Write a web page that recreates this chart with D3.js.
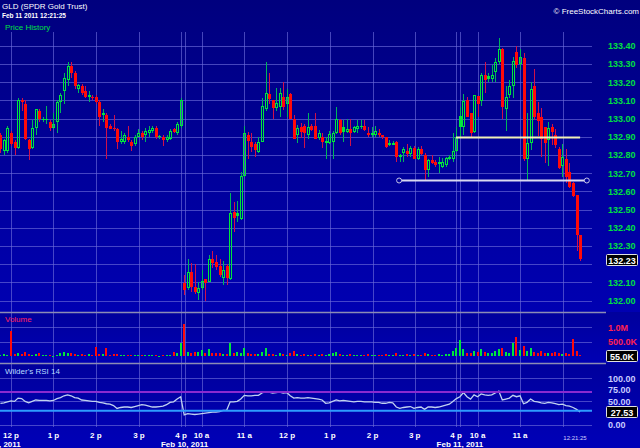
<!DOCTYPE html>
<html><head><meta charset="utf-8">
<script src="https://cdn.jsdelivr.net/npm/d3@7"></script>
<style>html,body{margin:0;padding:0;background:#000088;}svg{display:block}</style>
</head><body>
<svg id="chart" width="640" height="448"></svg>
<script>
// ---------- DATA (5-minute candles, GLD, Feb 9 11:45 .. Feb 11 12:20) ----------
const opens = [
132.91,132.82,132.82,132.92,132.87,132.84,133.10,133.08,132.88,132.84,
132.95,133.04,132.99,132.99,132.98,132.95,132.98,133.09,133.15,133.21,
133.29,133.25,133.16,133.18,133.15,133.13,133.12,133.12,133.09,133.02,
133.02,132.96,132.95,132.94,132.87,132.87,132.90,132.87,132.86,132.90,
132.92,132.91,132.92,132.93,132.95,132.90,132.90,132.88,132.89,132.94,
132.92,132.96,
132.094,132.067,132.155,132.076,132.04,132.067,132.118,132.10,132.228,132.21,
132.19,132.125,132.19,132.118,132.488,132.482,132.45,132.686,132.91,132.87,
132.862,132.818,132.87,133.05,133.133,133.10,133.056,133.065,133.12,133.078,
133.133,133.00,132.909,132.955,132.96,132.909,132.96,132.96,132.891,132.896,
132.876,132.868,132.87,132.918,132.99,132.951,132.927,132.94,132.927,132.945,
132.951,132.958,132.923,132.909,132.909,132.921,132.909,132.896,132.865,132.866,
132.872,132.79,132.808,132.823,132.805,132.84,132.775,132.83,132.80,132.717,
132.772,132.763,132.763,132.735,132.744,132.776,132.776,132.823,
133.013,132.955,133.10,133.03,132.927,133.123,133.098,133.24,133.232,133.215,
133.257,133.308,133.38,133.05,133.13,133.18,133.367,133.30,133.33,132.775,
132.867,133.18,133.03,133.006,132.955,132.882,132.955,132.909,132.83,132.739,
132.78,132.707,132.643,132.58,132.36];
const highs = [
132.92,132.89,132.96,132.93,132.88,133.11,133.11,133.10,132.89,132.99,
133.05,133.05,133.01,133.07,132.99,133.03,133.10,133.14,133.25,133.31,
133.31,133.26,133.19,133.19,133.18,133.15,133.13,133.13,133.10,133.05,
133.03,132.97,133.02,132.95,132.93,132.92,132.96,132.88,132.91,132.94,
132.93,132.95,132.96,132.96,132.96,132.91,132.91,132.91,132.94,132.95,
132.98,133.11,
132.14,132.228,132.204,132.20,132.10,132.167,132.12,132.25,132.27,132.25,
132.23,132.217,132.20,132.59,132.543,132.547,132.708,132.958,132.928,132.92,
132.87,132.90,133.11,133.31,133.25,133.10,133.166,133.166,133.20,133.16,
133.14,133.02,132.964,132.973,132.97,133.03,132.97,133.03,132.937,132.918,
132.90,132.93,132.93,133.065,133.0,132.99,133.0,133.0,132.96,132.99,
132.99,132.99,132.955,132.955,132.958,132.94,132.91,132.90,132.88,132.878,
132.875,132.805,132.845,132.86,132.848,132.85,132.845,132.85,132.81,132.78,
132.80,132.77,132.79,132.781,132.79,132.80,132.92,132.955,
133.065,133.135,133.12,133.03,133.13,133.125,133.25,133.31,133.25,133.294,
133.33,133.44,133.39,133.18,133.21,133.34,133.40,133.38,133.36,133.03,
133.20,133.27,133.092,133.06,132.955,132.98,132.97,132.94,132.845,132.86,
132.835,132.757,132.65,132.58,132.36];
const lows = [
132.81,132.80,132.81,132.85,132.80,132.83,133.04,132.88,132.77,132.83,
132.91,132.98,132.98,132.97,132.93,132.94,132.92,133.03,133.08,133.18,
133.22,133.16,133.14,133.13,133.11,133.09,133.10,133.08,132.96,132.98,
132.78,132.94,132.93,132.83,132.86,132.86,132.87,132.82,132.85,132.90,
132.88,132.87,132.90,132.92,132.89,132.89,132.85,132.87,132.88,132.92,
132.91,132.95,
132.03,132.058,132.048,132.034,132.003,132.06,131.997,132.10,132.176,132.167,
132.13,132.085,132.085,132.113,132.378,132.433,132.442,132.68,132.78,132.818,
132.79,132.81,132.869,133.04,133.08,133.00,133.04,133.01,133.047,133.01,
133.00,132.89,132.863,132.891,132.84,132.89,132.93,132.89,132.88,132.84,
132.78,132.86,132.78,132.915,132.91,132.873,132.918,132.85,132.92,132.918,
132.94,132.93,132.90,132.90,132.90,132.896,132.89,132.84,132.849,132.86,
132.763,132.763,132.763,132.79,132.786,132.775,132.772,132.80,132.66,132.68,
132.75,132.735,132.70,132.726,132.735,132.77,132.76,132.818,
132.90,132.91,133.006,132.90,132.922,133.01,133.068,133.14,133.20,133.20,
133.20,133.30,133.0,132.93,133.11,133.11,133.275,133.266,132.768,132.662,
132.826,132.99,132.905,132.79,132.757,132.74,132.854,132.836,132.72,132.68,
132.643,132.616,132.57,132.27,132.215];
const closes = [
132.83,132.88,132.95,132.86,132.84,133.10,133.09,132.89,132.83,132.95,
133.05,133.00,133.00,133.00,132.95,132.97,133.09,133.13,133.22,133.29,
133.25,133.18,133.185,133.14,133.12,133.131,133.11,133.09,133.01,133.03,
132.95,132.945,132.94,132.87,132.89,132.91,132.88,132.85,132.90,132.92,
132.90,132.93,132.935,132.95,132.90,132.902,132.88,132.90,132.93,132.925,
132.97,133.10,
132.058,132.155,132.076,132.045,132.067,132.107,132.094,132.228,132.204,132.186,
132.14,132.167,132.125,132.479,132.455,132.466,132.686,132.918,132.876,132.845,
132.827,132.869,133.07,133.14,133.107,133.06,133.083,133.142,133.065,133.12,
133.00,132.89,132.95,132.924,132.918,132.955,132.937,132.89,132.918,132.869,
132.878,132.915,132.918,133.0,132.918,132.927,132.942,132.92,132.951,132.958,
132.958,132.937,132.908,132.921,132.93,132.907,132.896,132.845,132.867,132.868,
132.79,132.80,132.83,132.805,132.84,132.78,132.83,132.805,132.717,132.772,
132.757,132.744,132.75,132.763,132.781,132.786,132.823,132.896,
132.951,133.096,133.01,132.918,133.129,133.08,133.24,133.21,133.215,133.24,
133.31,133.38,133.065,133.12,133.18,133.318,133.294,133.34,132.775,132.867,
133.16,133.006,132.988,132.89,132.867,132.95,132.927,132.854,132.726,132.786,
132.68,132.625,132.574,132.36,132.23];
const volumesK = [
60,70,40,870,70,130,90,140,90,60,
80,100,40,50,40,30,60,120,140,120,
110,90,60,80,60,70,40,330,80,80,
280,60,80,70,40,60,50,40,60,40,
50,60,50,60,50,30,60,40,60,150,
100,450,
1100,160,130,140,150,220,120,240,100,130,100,90,90,
450,100,160,100,280,110,80,90,80,150,280,
90,80,60,110,90,60,100,190,70,60,90,50,60,80,60,
70,60,80,100,160,80,60,50,70,60,
50,40,60,70,50,40,60,50,90,40,
40,120,60,50,70,60,90,50,60,110,
80,60,50,70,60,80,70,200,270,
560,250,120,110,200,160,240,150,100,120,200,250,
300,150,100,470,650,220,350,180,280,
150,130,200,120,110,100,150,120,80,130,90,600,200,55];
const rsi14 = [
46,47,49,51,50,57,56,50,47,50,
53,52,52,52,51,52,56,58,62,64,
62,58,57,53,52,51,50,50,48,47,
45,44,41,35,37,38,38,37,39,41,
43,42,40,38,38,39,40,43,48,49,
55,60,
21,24,23,22,23,24,25,26,27,27,28,31,31,
49,49,50,55,63,62,62,63,63,68,71,
70,68,69,70,68,69,62,57,58,57,57,58,57,56,55,
53,46,47,50,53,51,52,51,50,49,
50,50,49,49,49,48,48,46,46,48,
47,38,35,37,38,39,35,37,38,33,
38,38,37,38,40,42,44,50,56,
60,69,60,55,64,60,66,64,63,64,68,72,
53,55,57,63,60,62,45,48,55,
50,49,47,46,48,47,45,43,44,41,40,37,33,27.53];

const priceTicks = [133.40,133.30,133.20,133.10,133.00,132.90,132.80,132.70,132.60,132.50,132.40,132.30,132.20,132.10,132.00];
const volumeTicks = [[1000,"1.0M"],[500,"500.0K"]];
const rsiTicks = [100,75,50,25,0];
const rsiLevels = [70,30];
// time ticks in candle-slot units
const timeTicks = [[3,"12 p"],[15,"1 p"],[27,"2 p"],[39.2,"3 p"],[51.1,"4 p"],[56.9,"10 a"],[69,"11 a"],[81.1,"12 p"],[93.2,"1 p"],[105.3,"2 p"],[117.2,"3 p"],[128.9,"4 p"],[135,"10 a"],[147,"11 a"],[159.2,""]];
const daySeps = [[-0.28,"Feb 9, 2011",false],[52.1,"Feb 10, 2011",true],[130,"Feb 11, 2011",true]];
const trendLines = [{price:132.662, from:112.8, to:165.9, color:"#d8d8f0", handles:true},
                    {price:132.897, from:128.9, to:164.0, color:"#f0f0b8", handles:false}];

// ---------- LAYOUT ----------
const svg = d3.select("#chart");
const plotR = 592;
const x = d3.scaleLinear().domain([0,164]).range([0.4,580.1]);
const yP = d3.scaleLinear().domain([132.0,133.4]).range([300.5,45.7]);
const yV = d3.scaleLinear().domain([0,1000]).range([356.4,327]);
const yR = d3.scaleLinear().domain([0,100]).range([424.8,378]);

const defs = svg.append("defs");
function grad(id, c1, c2){
  const g = defs.append("linearGradient").attr("id",id).attr("x1",0).attr("x2",0).attr("y1",0).attr("y2",1);
  g.append("stop").attr("offset","0%").attr("stop-color",c1);
  g.append("stop").attr("offset","100%").attr("stop-color",c2);
}
grad("gP","#00007e","#0000b2");
grad("gV","#00009c","#0000b4");
grad("gR","#00009c","#0000b8");
defs.append("clipPath").attr("id","clipPlot").append("rect").attr("x",0).attr("y",0).attr("width",plotR).attr("height",448);

svg.append("rect").attr("x",0).attr("y",0).attr("width",640).attr("height",312).attr("fill","url(#gP)");
svg.append("rect").attr("x",0).attr("y",312).attr("width",640).attr("height",51).attr("fill","url(#gV)");
svg.append("rect").attr("x",0).attr("y",363).attr("width",640).attr("height",85).attr("fill","url(#gR)");

const gridC = "#6a6ad8";
const grid = svg.append("g").attr("stroke",gridC).attr("stroke-opacity",0.65).attr("stroke-width",1);
const vlines = timeTicks.map(d=>d[0]).concat(daySeps.filter(d=>d[2]).map(d=>d[0]));
grid.selectAll(".v").data(vlines).join("line")
  .attr("x1",d=>Math.round(x(d))+0.5).attr("x2",d=>Math.round(x(d))+0.5)
  .attr("y1",32).attr("y2",427);
grid.selectAll(".hp").data(priceTicks).join("line")
  .attr("x1",0).attr("x2",plotR).attr("y1",d=>Math.round(yP(d))+0.5).attr("y2",d=>Math.round(yP(d))+0.5);
grid.selectAll(".hv").data(volumeTicks).join("line")
  .attr("x1",0).attr("x2",plotR).attr("y1",d=>Math.round(yV(d[0]))+0.5).attr("y2",d=>Math.round(yV(d[0]))+0.5);
grid.selectAll(".hr").data([100,50,0]).join("line")
  .attr("x1",0).attr("x2",plotR).attr("y1",d=>Math.round(yR(d))+0.5).attr("y2",d=>Math.round(yR(d))+0.5);

svg.selectAll(".sep").data([312,363]).join("line")
  .attr("x1",0).attr("x2",606).attr("y1",d=>d+0.5).attr("y2",d=>d+0.5)
  .attr("stroke","#8c8cb4").attr("stroke-width",1.5);

// ---------- CANDLES ----------
const GREEN="#00e63c", GREENW="#00b45a", RED="#ff0a0a", REDW="#d0104a";
const plot = svg.append("g").attr("clip-path","url(#clipPlot)");
const cg = plot.append("g");
closes.forEach((c,i)=>{
  const o=opens[i], h=highs[i], l=lows[i];
  const prev = i>0 ? closes[i-1] : o;
  const up = c >= prev;
  const hollow = c >= o;
  const col = up?GREEN:RED, wcol = up?GREENW:REDW;
  const xi = Math.round(x(i));
  const top = Math.round(yP(Math.max(o,c))), bot = Math.round(yP(Math.min(o,c)));
  const yh = Math.round(yP(h)), yl = Math.round(yP(l));
  if (yh < top) cg.append("line").attr("x1",xi+0.5).attr("x2",xi+0.5).attr("y1",yh).attr("y2",top).attr("stroke",wcol);
  if (yl > bot) cg.append("line").attr("x1",xi+0.5).attr("x2",xi+0.5).attr("y1",bot).attr("y2",yl).attr("stroke",wcol);
  if (bot-top < 3){
    cg.append("rect").attr("x",xi-1).attr("y",top).attr("width",3).attr("height",Math.max(bot-top,1)+(bot-top<1?1:0)).attr("fill",col);
  } else if (hollow){
    cg.append("rect").attr("x",xi-0.5).attr("y",top+0.5).attr("width",2).attr("height",bot-top-1)
      .attr("fill","none").attr("stroke",col).attr("stroke-width",1);
  } else {
    cg.append("rect").attr("x",xi-1).attr("y",top).attr("width",3).attr("height",bot-top).attr("fill",col);
  }
});

trendLines.forEach(t=>{
  const yy = Math.round(yP(t.price))+0.5;
  svg.append("line").attr("x1",x(t.from)).attr("x2",x(t.to)).attr("y1",yy).attr("y2",yy)
    .attr("stroke",t.color).attr("stroke-width",2);
  if (t.handles){
    [t.from,t.to].forEach(s=>svg.append("circle").attr("cx",x(s)).attr("cy",yy).attr("r",2.5)
      .attr("fill","#0000a0").attr("stroke","#c8c8e8").attr("stroke-width",1));
  }
});

// ---------- VOLUME ----------
plot.append("g").selectAll("rect").data(volumesK).join("rect")
  .attr("x",(d,i)=>Math.round(x(i))-1).attr("width",2)
  .attr("y",d=>Math.round(yV(d))).attr("height",d=>Math.max(1,Math.round(yV(0))-Math.round(yV(d))))
  .attr("fill",(d,i)=> (i===0 || closes[i]>=closes[i-1]) ? GREEN : RED);

// ---------- RSI ----------
rsiLevels.forEach((lv,k)=>{
  svg.append("line").attr("x1",0).attr("x2",plotR).attr("y1",yR(lv)).attr("y2",yR(lv))
    .attr("stroke", k===0 ? "#8a2ad0" : "#2e9cff").attr("stroke-width",2);
});
plot.append("path").datum(rsi14)
  .attr("d", d3.line().x((d,i)=>x(i)).y(d=>yR(d)))
  .attr("fill","none").attr("stroke","#c0d2f0").attr("stroke-width",1.3);

// ---------- TEXT ----------
const F = "'Liberation Sans', Arial, sans-serif";
svg.append("text").attr("x",2).attr("y",9).attr("font-family",F).attr("font-size",8).attr("fill","#ffffff").text("GLD (SPDR Gold Trust)");
svg.append("text").attr("x",2).attr("y",18).attr("font-family",F).attr("font-size",6.5).attr("font-weight","bold").attr("fill","#ffffff").text("Feb 11 2011 12:21:25");
svg.append("text").attr("x",5).attr("y",30).attr("font-family",F).attr("font-size",8).attr("fill","#00e040").text("Price History");
svg.append("text").attr("x",639).attr("y",14).attr("text-anchor","end").attr("font-family",F).attr("font-size",8).attr("fill","#ffffff").text("\u00a9 FreeStockCharts.com");

const last = closes.length-1;
const boxP = yP(closes[last])+1, boxV = yV(volumesK[last])+1, boxR = yR(rsi14[last]);

svg.append("g").selectAll("text").data(priceTicks.filter(d=>Math.abs(yP(d)-boxP)>9)).join("text")
  .attr("x",608).attr("y",d=>yP(d)+3.5).attr("font-family",F).attr("font-size",9).attr("font-weight","bold")
  .attr("fill","#00e040").text(d=>d.toFixed(2));
svg.append("g").selectAll("text").data(volumeTicks).join("text")
  .attr("x",608).attr("y",d=>yV(d[0])+3.5).attr("font-family",F).attr("font-size",9).attr("font-weight","bold")
  .attr("fill","#ff2050").text(d=>d[1]);
svg.append("g").selectAll("text").data(rsiTicks.filter(d=>Math.abs(yR(d)-boxR)>9)).join("text")
  .attr("x",608).attr("y",d=>yR(d)+3.5).attr("font-family",F).attr("font-size",9).attr("font-weight","bold")
  .attr("fill","#c8ccff").text(d=>d.toFixed(2));

function valueBox(yc, txt){
  svg.append("rect").attr("x",606.5).attr("y",Math.round(yc)-5.5).attr("width",31).attr("height",11)
    .attr("fill","#000000").attr("stroke","#e0e0e0").attr("stroke-width",1).attr("rx",1);
  svg.append("text").attr("x",622).attr("y",Math.round(yc)+3.5).attr("text-anchor","middle")
    .attr("font-family",F).attr("font-size",9).attr("font-weight","bold").attr("fill","#ffffff").text(txt);
}
valueBox(boxP, closes[last].toFixed(2));
valueBox(boxV, volumesK[last].toFixed(1)+"K");
valueBox(boxR, rsi14[last].toFixed(2));

svg.append("text").attr("x",5).attr("y",322).attr("font-family",F).attr("font-size",8).attr("fill","#ff2060").text("Volume");
svg.append("text").attr("x",5).attr("y",374).attr("font-family",F).attr("font-size",8).attr("fill","#b8dcff").text("Wilder's RSI 14");

svg.append("g").selectAll("text").data(timeTicks.filter(d=>d[1])).join("text")
  .attr("x",d=>x(d[0])).attr("y",438).attr("text-anchor","middle").attr("font-family",F).attr("font-size",8)
  .attr("font-weight","bold").attr("fill","#ffffff").text(d=>d[1]);
svg.append("g").selectAll("text").data(daySeps).join("text")
  .attr("x",d=>x(d[0])).attr("y",447).attr("text-anchor","middle").attr("font-family",F).attr("font-size",8)
  .attr("font-weight","bold").attr("fill","#ffffff").text(d=>d[1]);
svg.append("text").attr("x",575).attr("y",440).attr("text-anchor","middle").attr("font-family",F).attr("font-size",6)
  .attr("fill","#d0d0ff").text("12:21:25");
</script>
</body></html>
